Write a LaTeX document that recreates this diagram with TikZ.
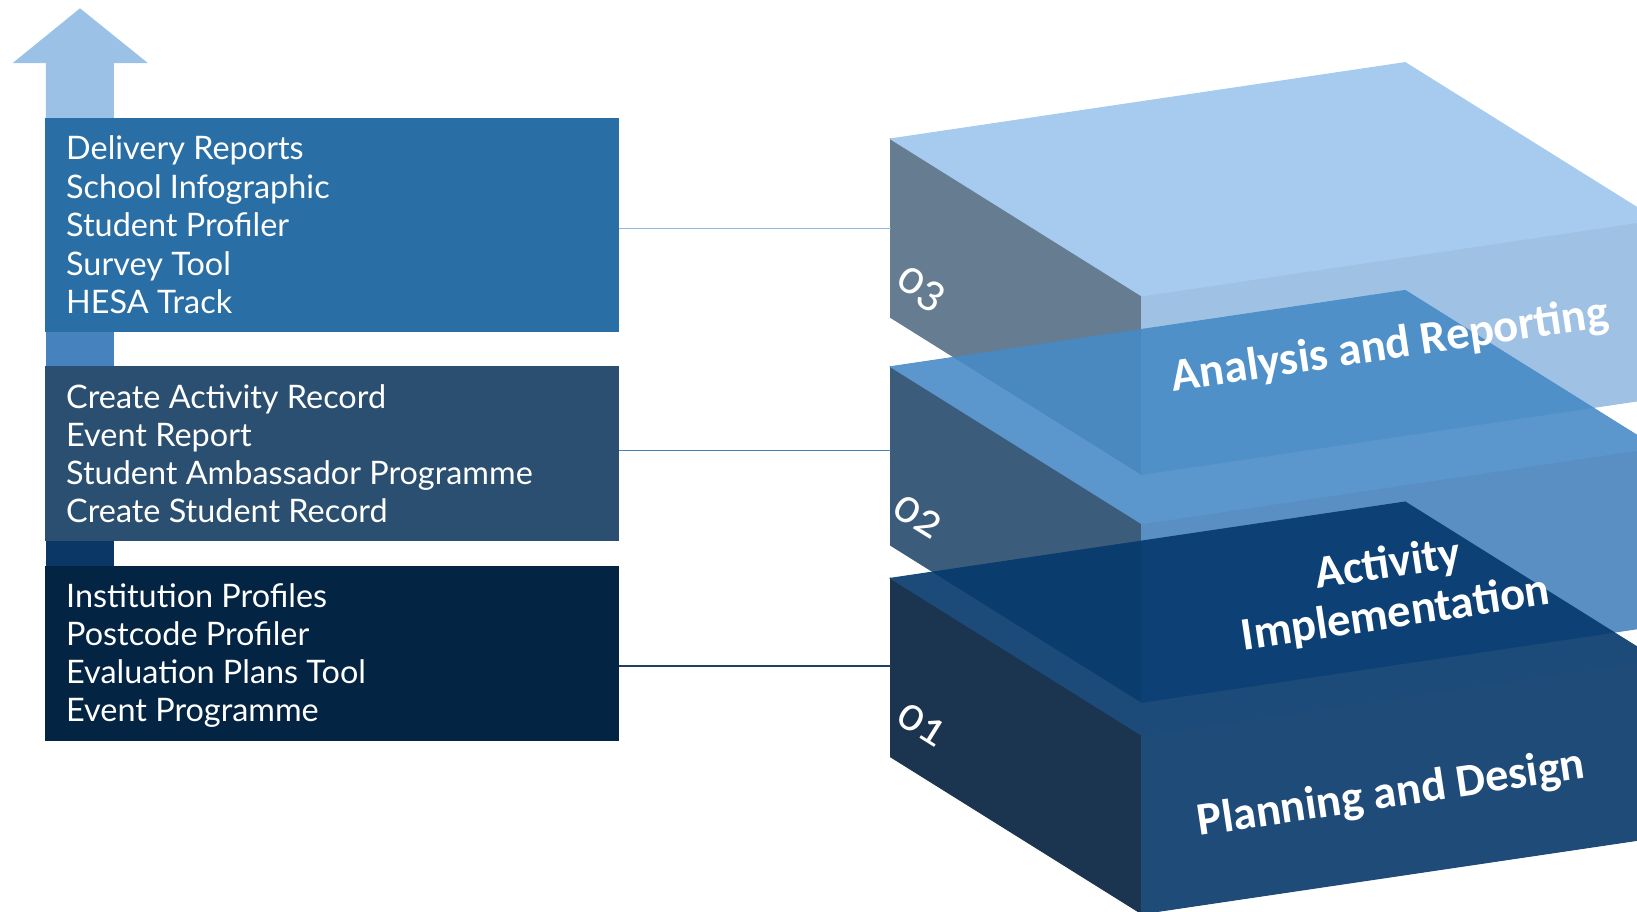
\documentclass[tikz,border=0pt]{standalone}
\usepackage{fontspec}
\setmainfont{Carlito}
\newfontfamily\listfont{Lato}
\newfontfamily\numfont{Carlito}[Numbers=OldStyle]
\definecolor{arrowlight}{HTML}{9BC2E6}
\definecolor{arrowmid}{HTML}{4682BE}
\definecolor{arrowdark}{HTML}{0A3766}
\definecolor{boxA}{HTML}{2A6EA6}
\definecolor{boxB}{HTML}{2B4F70}
\definecolor{boxC}{HTML}{042444}
\definecolor{lineA}{HTML}{8DB6E2}
\definecolor{lineB}{HTML}{4A7FB8}
\definecolor{lineC}{HTML}{1F3F68}
\definecolor{cTtop}{HTML}{A6CBEE}
\definecolor{cTleft}{HTML}{667C90}
\definecolor{cTfront}{HTML}{9FC2E4}
\definecolor{cMtop}{RGB}{71,138,198}
\definecolor{cMleft}{RGB}{36,72,108}
\definecolor{cMfront}{RGB}{70,129,188}
\definecolor{cBtop}{RGB}{5,57,108}
\definecolor{cBleft}{RGB}{4,32,62}
\definecolor{cBfront}{RGB}{8,57,107}
\newcommand{\drawcube}[5]{%
  \begin{scope}[transparency group, opacity=#5, line width=0.7pt, line join=round]
  \filldraw[fill=#3, draw=#3] #1 -- ++(251.2,157) -- ++(0,178.5) -- ++(-251.2,-157) -- cycle;
  \filldraw[fill=#4, draw=#4] #1 ++(251.2,157) -- ++(514.7,-76.3) -- ++(0,178.5) -- ++(-514.7,76.3) -- cycle;
  \filldraw[fill=#2, draw=#2] #1 -- ++(514.7,-76.3) -- ++(251.2,157) -- ++(-514.7,76.3) -- cycle;
  \end{scope}
}
\begin{document}
\begin{tikzpicture}[x=1pt,y=-1pt,
  listbox/.style={rectangle, inner sep=0pt, outer sep=0pt, anchor=north west, minimum width=574.1pt},
  listtext/.style={anchor=base west, inner sep=0pt, text=white, font=\fontsize{32.4}{38.5}\selectfont\listfont},
  cubelabel/.style={inner sep=0pt, text=white, rotate=8.5, font=\fontsize{46.5}{50}\selectfont\bfseries},
  numlabel/.style={inner sep=0pt, text=white, rotate=-32, font=\fontsize{48}{48}\selectfont\numfont},
  conn/.style={line width=1.3pt}
]
\useasboundingbox (0,0) rectangle (1637,911);
\begin{scope}
\clip (0,0) rectangle (1637,911);
% cubes, top one first, lower ones drawn over it
\drawcube{(890.5,138.9)}{cTtop}{cTleft}{cTfront}{1}
\drawcube{(890.5,366.7)}{cMtop}{cMleft}{cMfront}{0.89}
\drawcube{(890.5,578.3)}{cBtop}{cBleft}{cBfront}{0.91}
\end{scope}

% arrow
\fill[arrowlight] (80,8.3) -- (147.8,63) -- (113.9,63) -- (113.9,119) -- (45.9,119) -- (45.9,63) -- (12.7,63) -- cycle;
\fill[arrowmid] (45.9,331) rectangle (113.9,367);
\fill[arrowdark] (45.9,540) rectangle (113.9,566.5);

% boxes
\node[listbox, fill=boxA, minimum height=213.7pt] (box3) at (44.9,118) {};
\node[listbox, fill=boxB, minimum height=174.4pt] (box2) at (44.9,366.4) {};
\node[listbox, fill=boxC, minimum height=175.2pt] (box1) at (44.9,565.8) {};

\foreach \txt [count=\i] in {Delivery Reports, School Infographic, Student Profiler, Survey Tool, HESA Track}
  \node[listtext] (t3-\i) at (66,{159.5+38.5*(\i-1)}) {\txt};
\foreach \txt [count=\i] in {Create Activity Record, Event Report, Student Ambassador Programme, Create Student Record}
  \node[listtext] (t2-\i) at (66,{408.3+38.1*(\i-1)}) {\txt};
\foreach \txt [count=\i] in {Institution Profiles, Postcode Profiler, Evaluation Plans Tool, Event Programme}
  \node[listtext] (t1-\i) at (66,{607.7+38*(\i-1)}) {\txt};

% connectors
\coordinate (k3) at (890.5,228.6);
\coordinate (k2) at (890.5,450.8);
\coordinate (k1) at (890.5,666);
\draw[conn, lineA] (k3 -| box3.east) -- (k3);
\draw[conn, lineB] (k2 -| box2.east) -- (k2);
\draw[conn, lineC] (k1 -| box1.east) -- (k1);

% cube labels
\node[cubelabel, anchor=base] (lab3) at (1392,359) {Analysis and Reporting};
\node[cubelabel, align=center, anchor=center] (lab2) at (1392,590) {Activity\\Implementation};
\node[cubelabel, anchor=base] (lab1) at (1393,807) {Planning and Design};

\node[numlabel] (n3) at (920.7,290) {03};
\node[numlabel] (n2) at (918.3,516.7) {02};
\node[numlabel] (n1) at (921.7,725) {01};
\end{tikzpicture}
\end{document}
